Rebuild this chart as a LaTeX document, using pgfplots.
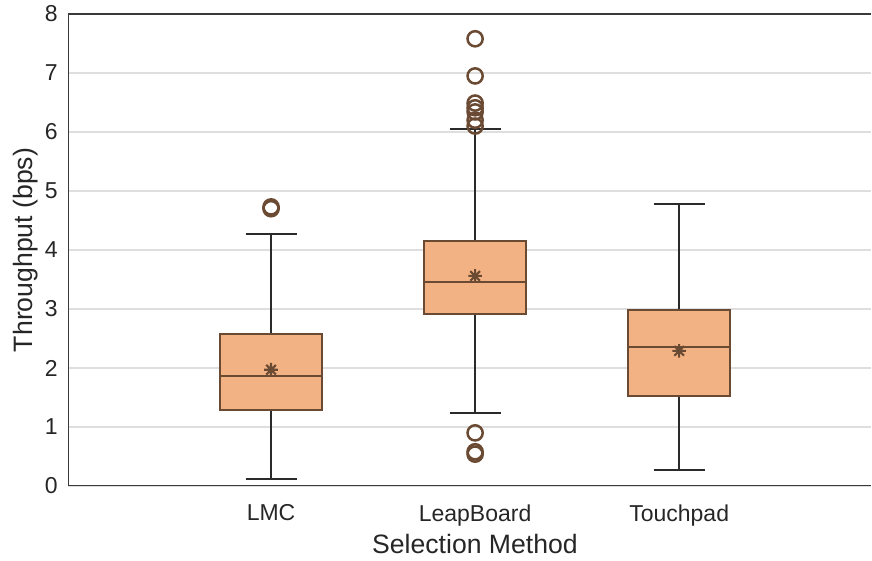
\documentclass[border=0pt]{standalone}
\usepackage{pgfplots}
\pgfplotsset{compat=1.18}
\usepgfplotslibrary{statistics}
\usepackage{fontspec}
\setmainfont{Liberation Sans}
\definecolor{boxfill}{HTML}{F3B283}
\definecolor{boxedge}{HTML}{6B4A33}
\definecolor{whisk}{HTML}{2A2A2A}
\definecolor{txt}{HTML}{262626}
\definecolor{gridc}{HTML}{DEDEDE}
\definecolor{spine}{HTML}{3A3A3A}
\pgfdeclareplotmark{ast8}{%
  \pgfpathmoveto{\pgfqpoint{0pt}{\pgfplotmarksize}}\pgfpathlineto{\pgfqpoint{0pt}{-\pgfplotmarksize}}%
  \pgfpathmoveto{\pgfqpoint{\pgfplotmarksize}{0pt}}\pgfpathlineto{\pgfqpoint{-\pgfplotmarksize}{0pt}}%
  \pgfpathmoveto{\pgfqpoint{0.7071\pgfplotmarksize}{0.7071\pgfplotmarksize}}\pgfpathlineto{\pgfqpoint{-0.7071\pgfplotmarksize}{-0.7071\pgfplotmarksize}}%
  \pgfpathmoveto{\pgfqpoint{-0.7071\pgfplotmarksize}{0.7071\pgfplotmarksize}}\pgfpathlineto{\pgfqpoint{0.7071\pgfplotmarksize}{-0.7071\pgfplotmarksize}}%
  \pgfusepathqstroke}
\begin{document}
\begin{tikzpicture}
\begin{axis}[
  scale only axis, width=401.5bp, height=236bp,
  xmin=-0.995, xmax=2.94, ymin=0, ymax=8,
  xtick={0,1,2}, xticklabels={LMC,LeapBoard,Touchpad},
  ytick={0,1,...,8},
  major tick length=0pt,
  ymajorgrids, grid style={gridc, line width=0.6bp},
  axis line style={draw=none},
  /pgf/number format/assume math mode=true,
  tick label style={font=\fontsize{11.5bp}{13bp}\selectfont, text=txt},
  yticklabel style={xshift=-1.7bp},
  xticklabel style={yshift=-5.7bp},
  xlabel={Selection Method}, ylabel={Throughput (bps)},
  every axis x label/.style={at={(axis description cs:0.5068,-0.142)}, anchor=base, font=\fontsize{13.3bp}{16bp}\selectfont, text=txt},
  every axis y label/.style={at={(axis description cs:-0.0436,0.5)}, rotate=90, anchor=base, font=\fontsize{13.3bp}{16bp}\selectfont, text=txt},
  boxplot/draw direction=y,
  boxplot/box extend=0.5, boxplot/whisker extend=0.25,
  boxplot/every average/.style={/tikz/mark=ast8, /tikz/mark size=3.4bp, /tikz/mark options={draw=boxedge, fill=none, solid, line width=0.7bp}},
]
% whiskers (dark)
\addplot[draw=whisk, line width=1.05bp, boxplot prepared={draw position=0, lower whisker=0.12, lower quartile=1.29, median=1.87, upper quartile=2.58, upper whisker=4.27}] coordinates {};
\addplot[draw=whisk, line width=1.05bp, boxplot prepared={draw position=1, lower whisker=1.23, lower quartile=2.92, median=3.46, upper quartile=4.15, upper whisker=6.05}] coordinates {};
\addplot[draw=whisk, line width=1.05bp, boxplot prepared={draw position=2, lower whisker=0.27, lower quartile=1.53, median=2.36, upper quartile=2.98, upper whisker=4.78}] coordinates {};
% boxes
\addplot[draw=boxedge, fill=boxfill, line width=1.05bp,
  boxplot prepared={draw position=0, lower whisker=1.29, lower quartile=1.29, median=1.87, upper quartile=2.58, upper whisker=2.58, average=1.97}] coordinates {};
\addplot[draw=boxedge, fill=boxfill, line width=1.05bp,
  boxplot prepared={draw position=1, lower whisker=2.92, lower quartile=2.92, median=3.46, upper quartile=4.15, upper whisker=4.15, average=3.56}] coordinates {};
\addplot[draw=boxedge, fill=boxfill, line width=1.05bp,
  boxplot prepared={draw position=2, lower whisker=1.53, lower quartile=1.53, median=2.36, upper quartile=2.98, upper whisker=2.98, average=2.29}] coordinates {};
% outliers
\addplot[only marks, mark=o, mark size=3.8bp, mark options={draw=boxedge, line width=1.25bp}] coordinates {
  (0,4.70) (0,4.73)
  (1,7.58) (1,6.95) (1,6.49) (1,6.41) (1,6.34) (1,6.20) (1,6.10)
  (1,0.90) (1,0.58) (1,0.54)
};
\draw[spine, line width=0.75bp] (rel axis cs:1,1) -- (rel axis cs:0,1) -- (rel axis cs:0,0) -- (rel axis cs:1,0);
\end{axis}
\pgfresetboundingbox
\path[use as bounding box] ([shift={(-34bp,-37.5bp)}]current axis.south west) rectangle ([shift={(0.5bp,7bp)}]current axis.north east);
\end{tikzpicture}
\end{document}
